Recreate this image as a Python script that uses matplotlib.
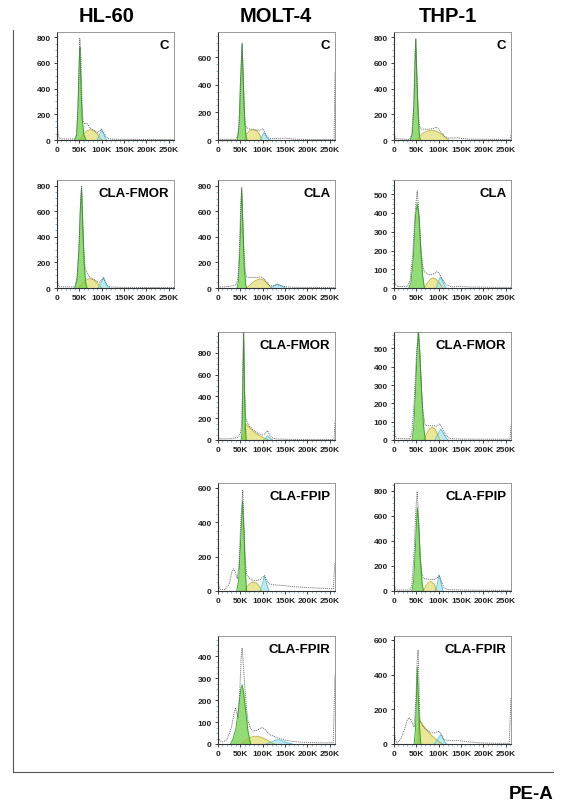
import matplotlib
matplotlib.use("Agg")
import matplotlib.pyplot as plt
import numpy as np

plt.rcParams['font.family'] = ['Liberation Sans', 'DejaVu Sans']

# cell lines (columns) and treatments
COLUMNS = ["HL-60", "MOLT-4", "THP-1"]
X_TICKS = [0, 50, 100, 150, 200, 250]
X_LABELS = ["0", "50K", "100K", "150K", "200K", "250K"]

# each curve: (PE-A in K, count)
HL60_C_HIST = [(0,200),(2,60),(5,15),(10,8),(40,8),(44,40),(47,250),(50,600),(51,790),(54,600),(56,300),(58,150),(62,125),(67,130),(75,90),(85,70),(90,55),(95,70),(99,84),(104,60),(110,25),(116,10),(130,6),(262,3)]
HL60_C_G1 = [(40,0),(44,40),(47,250),(50,650),(51.5,720),(53,500),(56,180),(60,40),(65,0)]
HL60_C_S = [(52,0),(58,40),(66,70),(74,80),(82,75),(90,50),(96,15),(100,0)]
HL60_C_G2 = [(90,0),(95,40),(100,82),(104,50),(108,15),(112,0)]

MOLT4_C_HIST = [(0,10),(3,5),(40,5),(45,30),(49,200),(52,550),(54,700),(56,500),(58,250),(61,120),(64,90),(70,80),(80,75),(90,70),(97,75),(101,82),(105,55),(110,20),(118,10),(140,10),(150,14),(160,10),(180,5),(260,3),(262,490)]
MOLT4_C_G1 = [(43,0),(47,100),(50,400),(54,690),(57,400),(60,120),(63,20),(65,0)]
MOLT4_C_S = [(58,0),(64,45),(72,70),(79,75),(87,68),(93,40),(98,0)]
MOLT4_C_G2 = [(95,0),(99,30),(103,55),(108,25),(113,5),(117,0)]

THP1_C_HIST = [(0,60),(3,10),(35,5),(40,40),(44,250),(47,650),(49,790),(51,550),(54,250),(57,100),(62,85),(75,82),(88,90),(95,100),(100,85),(108,50),(115,25),(122,15),(135,15),(142,20),(150,12),(170,6),(260,5),(262,40)]
THP1_C_G1 = [(37,0),(41,50),(45,300),(48.5,780),(51,500),(54,200),(57,30),(59,0)]
THP1_C_S = [(50,0),(58,30),(68,60),(80,74),(92,72),(105,50),(115,20),(123,0)]
THP1_C_G2 = []

HL60_FMOR_HIST = [(0,100),(2,40),(5,10),(40,8),(45,60),(50,350),(53,700),(55,795),(57,600),(60,300),(63,160),(66,125),(72,90),(80,70),(90,50),(96,45),(101,70),(104,83),(108,50),(113,20),(120,8),(140,5),(262,3)]
HL60_FMOR_G1 = [(40,0),(45,80),(49,300),(52,600),(55,775),(58,450),(61,180),(64,50),(67,0)]
HL60_FMOR_S = [(48,0),(55,30),(62,55),(72,73),(82,65),(90,40),(97,10),(100,0)]
HL60_FMOR_G2 = [(92,0),(97,30),(104,78),(109,40),(114,10),(118,0)]

MOLT4_CLA_HIST = [(0,10),(10,8),(25,12),(40,25),(45,80),(48,300),(51,650),(53,784),(55,600),(58,300),(61,130),(64,86),(75,82),(90,82),(95,88),(100,80),(108,50),(115,20),(122,15),(133,27),(140,18),(155,8),(180,5),(262,3)]
MOLT4_CLA_G1 = [(43,0),(46,60),(49,300),(53,778),(56,450),(59,150),(62,30),(64,0)]
MOLT4_CLA_S = [(64,0),(72,25),(82,55),(94,72),(104,60),(112,30),(120,0)]
MOLT4_CLA_G2 = [(118,0),(125,15),(133,32),(141,18),(148,5),(152,0)]

THP1_CLA_HIST = [(0,60),(3,20),(8,8),(30,8),(36,40),(42,180),(48,420),(52,518),(56,400),(60,220),(64,120),(68,87),(75,75),(83,70),(92,80),(97,88),(103,70),(110,40),(118,15),(130,6),(150,9),(170,5),(262,3)]
THP1_CLA_G1 = [(33,0),(38,30),(43,150),(48,380),(52,450),(56,380),(60,200),(64,70),(68,0)]
THP1_CLA_S = [(68,0),(74,25),(82,48),(88,54),(95,45),(102,25),(109,0)]
THP1_CLA_G2 = [(94,0),(99,30),(104,60),(109,35),(114,10),(117,0)]

MOLT4_FMOR_HIST = [(0,40),(3,10),(30,12),(45,25),(50,60),(53,140),(55,480),(57,1000),(59,450),(62,200),(65,165),(72,120),(80,90),(90,60),(100,45),(106,60),(111,85),(116,45),(120,22),(130,10),(160,6),(260,5),(262,165)]
MOLT4_FMOR_G1 = [(52,0),(54,100),(56,600),(57.5,1000),(59,600),(61,150),(63,0)]
MOLT4_FMOR_S = [(55,0),(58,60),(61,150),(66,135),(75,95),(85,60),(95,35),(105,15),(113,0)]
MOLT4_FMOR_G2 = [(102,0),(106,15),(111,38),(116,18),(122,0)]

THP1_FMOR_HIST = [(0,95),(2,30),(6,8),(35,6),(40,40),(45,200),(50,450),(54,590),(57,500),(61,300),(65,150),(70,80),(80,78),(90,78),(95,75),(103,88),(110,55),(117,22),(125,8),(150,5),(260,4),(262,80)]
THP1_FMOR_G1 = [(40,0),(44,60),(48,250),(52,500),(55,590),(58,470),(62,250),(66,80),(70,0)]
THP1_FMOR_S = [(67,0),(73,35),(80,62),(85,69),(92,60),(98,30),(103,0)]
THP1_FMOR_G2 = [(92,0),(97,25),(105,60),(111,35),(117,10),(121,0)]

MOLT4_FPIP_HIST = [(0,42),(5,10),(15,8),(25,40),(31,110),(35,129),(39,110),(43,71),(47,150),(51,400),(55.5,587),(58,400),(61,180),(64,95),(70,75),(79,62),(88,62),(95,68),(104,90),(108,70),(114,42),(125,36),(142,33),(170,25),(200,20),(230,16),(258,13),(262,170)]
MOLT4_FPIP_G1 = [(42,0),(46,60),(50,250),(55,523),(58,350),(61,120),(64,0)]
MOLT4_FPIP_S = [(57,0),(64,20),(72,45),(79,52),(87,45),(93,25),(98,0)]
MOLT4_FPIP_G2 = [(94,0),(98,30),(104,87),(108,50),(112,15),(114,0)]

THP1_FPIP_HIST = [(0,62),(3,15),(8,8),(36,8),(40,50),(45,300),(49,650),(52,795),(55,600),(58,300),(62,150),(66,100),(75,95),(88,90),(95,100),(101,125),(106,80),(112,25),(120,12),(150,8),(200,6),(262,5)]
THP1_FPIP_G1 = [(40,0),(44,80),(48,350),(52,666),(55,550),(59,250),(63,60),(66,0)]
THP1_FPIP_S = [(66,0),(72,45),(78,70),(83,75),(89,60),(93,30),(96,0)]
THP1_FPIP_G2 = [(92,0),(96,40),(101,129),(105,70),(108,20),(110,0)]

MOLT4_FPIR_HIST = [(0,28),(5,15),(11,9),(20,20),(30,75),(36,140),(39,166),(42,140),(45,122),(49,250),(52,400),(54,438),(56,380),(60,262),(64,160),(67,106),(72,75),(78,59),(88,63),(95,72),(100,75),(106,65),(115,44),(125,35),(134,28),(150,18),(165,12),(190,8),(220,6),(258,5),(262,317)]
MOLT4_FPIR_G1 = [(28,0),(33,20),(40,70),(46,160),(51,250),(54,270),(57,240),(62,150),(67,60),(73,0)]
MOLT4_FPIR_S = [(52,0),(60,15),(70,28),(80,35),(90,35),(100,28),(110,18),(118,8),(126,0)]
MOLT4_FPIR_G2 = [(108,0),(118,8),(127,16),(134,20),(142,16),(152,8),(160,3),(167,0)]

THP1_FPIR_HIST = [(0,74),(4,20),(7,6),(15,30),(22,74),(30,140),(34,152),(38,140),(45,97),(49,250),(52,480),(54,542),(56,350),(58,133),(64,103),(72,85),(82,64),(92,65),(101,74),(106,55),(112,25),(125,20),(146,19),(170,12),(195,6),(230,4),(258,4),(262,269)]
THP1_FPIR_G1 = [(45,0),(48,80),(50,250),(52,444),(54,300),(57,100),(60,0)]
THP1_FPIR_S = [(53,0),(56,145),(62,120),(70,90),(80,60),(90,35),(100,15),(108,0)]
THP1_FPIR_G2 = [(90,0),(96,20),(105,55),(110,30),(115,8),(118,0)]

# (row, col, label, y max, y step, hist, G1, S, G2)
PANELS = [
    (0, 0, "C", 840, 200, HL60_C_HIST, HL60_C_G1, HL60_C_S, HL60_C_G2),
    (0, 1, "C", 781, 200, MOLT4_C_HIST, MOLT4_C_G1, MOLT4_C_S, MOLT4_C_G2),
    (0, 2, "C", 840, 200, THP1_C_HIST, THP1_C_G1, THP1_C_S, THP1_C_G2),
    (1, 0, "CLA-FMOR", 844, 200, HL60_FMOR_HIST, HL60_FMOR_G1, HL60_FMOR_S, HL60_FMOR_G2),
    (1, 1, "CLA", 845, 200, MOLT4_CLA_HIST, MOLT4_CLA_G1, MOLT4_CLA_S, MOLT4_CLA_G2),
    (1, 2, "CLA", 576, 100, THP1_CLA_HIST, THP1_CLA_G1, THP1_CLA_S, THP1_CLA_G2),
    (2, 1, "CLA-FMOR", 991, 200, MOLT4_FMOR_HIST, MOLT4_FMOR_G1, MOLT4_FMOR_S, MOLT4_FMOR_G2),
    (2, 2, "CLA-FMOR", 590, 100, THP1_FMOR_HIST, THP1_FMOR_G1, THP1_FMOR_S, THP1_FMOR_G2),
    (3, 1, "CLA-FPIP", 629, 200, MOLT4_FPIP_HIST, MOLT4_FPIP_G1, MOLT4_FPIP_S, MOLT4_FPIP_G2),
    (3, 2, "CLA-FPIP", 862, 200, THP1_FPIP_HIST, THP1_FPIP_G1, THP1_FPIP_S, THP1_FPIP_G2),
    (4, 1, "CLA-FPIR", 493, 100, MOLT4_FPIR_HIST, MOLT4_FPIR_G1, MOLT4_FPIR_S, MOLT4_FPIR_G2),
    (4, 2, "CLA-FPIR", 623, 200, THP1_FPIR_HIST, THP1_FPIR_G1, THP1_FPIR_S, THP1_FPIR_G2),
]

W, H = 571, 803
COL_LEFT = [57, 218, 394]
ROW_TOP = [33, 181, 333, 484, 637]
AX_W, AX_H = 117, 108

fig = plt.figure(figsize=(W / 100, H / 100), dpi=100)


def fill_part(ax, pts, face, edge):
	if not pts:
		return
	x, y = np.array(pts).T
	ax.fill_between(x, y, 0, color=face, alpha=0.75, lw=0)
	ax.plot(x, y, color=edge, lw=0.7, alpha=0.9)


for row, col, label, ymax, ystep, hist, g1, s, g2 in PANELS:
	left = COL_LEFT[col] / W
	bottom = (H - ROW_TOP[row] - AX_H) / H
	ax = fig.add_axes([left, bottom, AX_W / W, AX_H / H])
	fill_part(ax, s, "#e3e07a", "#b8b040")
	fill_part(ax, g2, "#a9e2ec", "#5cc0d2")
	fill_part(ax, g1, "#6fd04a", "#2f9e22")
	hx, hy = np.array(hist).T
	ax.plot(hx, hy, color="#666666", lw=0.7, ls=(0, (1, 1)))
	ax.set_xlim(0, 262)
	ax.set_ylim(0, ymax)
	ax.set_xticks(X_TICKS)
	ax.set_xticklabels(X_LABELS)
	ax.set_xticks(np.arange(0, 262, 10), minor=True)
	yt = np.arange(0, ymax + 1, ystep)
	ax.set_yticks(yt)
	ax.set_yticklabels([str(int(v)) for v in yt])
	ax.set_yticks(np.arange(0, ymax, ystep / 4), minor=True)
	ax.tick_params(labelsize=6, length=2.5, width=0.6, pad=2, colors="#222222")
	ax.tick_params(which="minor", length=1.5, width=0.5, colors="#5a9fc0")
	for t in ax.get_xticklabels() + ax.get_yticklabels():
		t.set_fontweight("bold")
	for side in ["top", "right"]:
		ax.spines[side].set_color("#888888")
		ax.spines[side].set_linewidth(0.6)
	for side in ["left", "bottom"]:
		ax.spines[side].set_color("#333333")
		ax.spines[side].set_linewidth(0.8)
	ax.text(0.96, 0.88, label, transform=ax.transAxes, ha="right", va="center",
		fontsize=9.5, fontweight="bold")

# column titles
for i, name in enumerate(COLUMNS):
	cx = [107, 276, 448][i]
	fig.text(cx / W, 1 - 16 / H, name, ha="center", va="center", fontsize=14.5, fontweight="bold")

# frame line and axis title
fig.add_artist(plt.Line2D([13 / W, 13 / W], [1 - 31 / H, 1 - 773 / H], color="#555555", lw=0.8))
fig.add_artist(plt.Line2D([13 / W, 553 / W], [1 - 773 / H, 1 - 773 / H], color="#555555", lw=0.8))
fig.text(553 / W, 1 - 795 / H, "PE-A", ha="right", va="center", fontsize=13.5, fontweight="bold")

fig.savefig("out.png", dpi=100)
